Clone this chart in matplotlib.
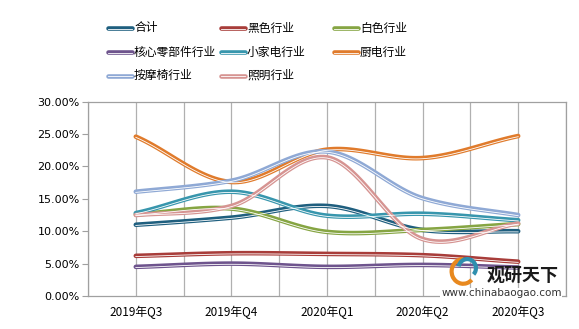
import numpy as np
import matplotlib
matplotlib.use('Agg')
import matplotlib.pyplot as plt
import matplotlib.transforms as mtransforms
from matplotlib.patches import Arc
from matplotlib.lines import Line2D

plt.rcParams['font.family'] = ['Noto Sans CJK SC', 'DejaVu Sans']

quarters = ['2019年Q3', '2019年Q4', '2020年Q1', '2020年Q2', '2020年Q3']

heji = [11.0, 12.1, 13.9, 10.2, 10.0]
heise = [6.2, 6.6, 6.5, 6.3, 5.3]
baise = [12.6, 13.5, 9.9, 10.2, 11.1]
hexin = [4.5, 5.0, 4.5, 4.8, 4.4]
xiaojiadian = [12.8, 16.1, 12.4, 12.7, 11.7]
chudian = [24.6, 17.6, 22.6, 21.3, 24.7]
anmoyi = [16.1, 17.8, 22.3, 15.1, 12.5]
zhaoming = [12.5, 13.9, 21.4, 8.8, 11.2]

names = ['合计', '黑色行业', '白色行业', '核心零部件行业', '小家电行业', '厨电行业', '按摩椅行业', '照明行业']
series = [heji, heise, baise, hexin, xiaojiadian, chudian, anmoyi, zhaoming]
colors = ['#1f5f7f', '#a83d3a', '#86a543', '#6e548d', '#3896ad', '#e07b2c', '#8fa9d5', '#d69492']


def smooth(x, y, n=30):
    # catmull-rom style curve through the points, like excel's smoothed line
    x = np.asarray(x, float)
    y = np.asarray(y, float)
    px = np.concatenate([[2 * x[0] - x[1]], x, [2 * x[-1] - x[-2]]])
    py = np.concatenate([[2 * y[0] - y[1]], y, [2 * y[-1] - y[-2]]])
    xs, ys = [], []
    t = np.linspace(0, 1, n)
    for i in range(1, len(px) - 2):
        p0, p1, p2, p3 = py[i - 1], py[i], py[i + 1], py[i + 2]
        m1 = (p2 - p0) / 2 * 0.9
        m2 = (p3 - p1) / 2 * 0.9
        h00 = 2 * t**3 - 3 * t**2 + 1
        h10 = t**3 - 2 * t**2 + t
        h01 = -2 * t**3 + 3 * t**2
        h11 = t**3 - t**2
        ys.append(h00 * p1 + h10 * m1 + h01 * p2 + h11 * m2)
        xs.append(px[i] + t * (px[i + 1] - px[i]))
    return np.concatenate(xs), np.concatenate(ys)


W, H = 579, 329
fig = plt.figure(figsize=(W / 100, H / 100), dpi=100)
ax = fig.add_axes([0.152, 0.1003, 0.8255, 0.5907])

xpos = np.arange(len(quarters)) + 0.5
shift = mtransforms.offset_copy(ax.transData, fig=fig, y=-0.5, units='points')
for vals, c in zip(series, colors):
    sx, sy = smooth(xpos, vals)
    ax.plot(sx, sy, color=c, lw=3.3, solid_capstyle='round', zorder=3)
    ax.plot(sx, sy, color='white', lw=0.6, transform=shift, zorder=4)

ax.set_xlim(0, 5)
ax.set_ylim(0, 30)
ax.set_xticks(xpos)
ax.set_xticklabels(quarters, fontsize=8.5)
ax.set_xticks(np.arange(0, 5.01, 1.0), minor=True)
ax.set_yticks(np.arange(0, 30.1, 5))
ax.set_yticklabels(['%.2f%%' % v for v in np.arange(0, 30.1, 5)], fontsize=8, family='DejaVu Sans')
ax.tick_params(axis='x', which='both', length=0, pad=7)
ax.tick_params(axis='y', length=4, color='#a0a0a0', pad=2)
ax.grid(axis='x', which='both', color='#b0b0b0', lw=0.9)
for s in ax.spines.values():
    s.set_color('#a0a0a0')
    s.set_linewidth(0.9)

# legend, drawn by hand in three equal columns
col_x = [107, 220, 333]
row_y = [28, 52, 75.5]
for i, (name, c) in enumerate(zip(names, colors)):
    x0 = col_x[i % 3]
    y0 = row_y[i // 3]
    fy = 1 - y0 / H
    fig.add_artist(Line2D([(x0 + 1) / W, (x0 + 25) / W], [fy, fy], color=c, lw=3.3,
                          solid_capstyle='round', transform=fig.transFigure))
    fig.add_artist(Line2D([(x0 + 1) / W, (x0 + 25) / W], [fy - 0.5 / H, fy - 0.5 / H], color='white',
                          lw=0.6, transform=fig.transFigure))
    fig.text((x0 + 27) / W, fy, name, fontsize=8.5, ha='left', va='center')

# watermark
fig.text(0.965, 0.165, '观研天下', fontsize=13, fontweight='bold', ha='right', va='center', color='#1a1a1a')
fig.text(0.97, 0.108, 'www.chinabaogao.com', fontsize=7.5, ha='right', va='center', color='#333333',
         family='DejaVu Sans', bbox=dict(facecolor='white', edgecolor='none', pad=0.5))
fig.add_artist(Arc((0.800, 0.175), 0.04, 0.075, theta1=90, theta2=300, color='#e8891f', lw=3, transform=fig.transFigure))
fig.add_artist(Arc((0.807, 0.185), 0.03, 0.055, theta1=-60, theta2=160, color='#2f8fae', lw=3, transform=fig.transFigure))

fig.savefig('out.png', dpi=100)
